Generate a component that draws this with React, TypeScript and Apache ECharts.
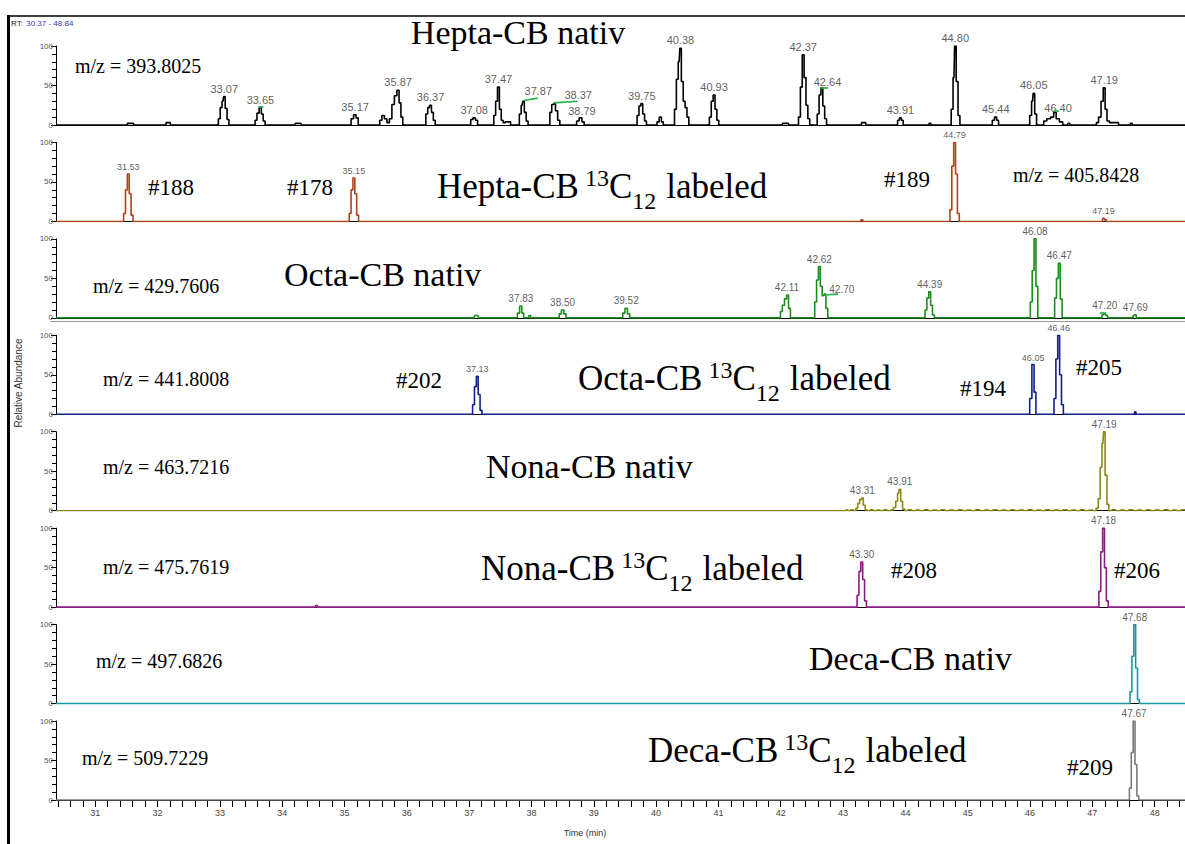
import React, { useEffect, useRef } from "react";
import * as echarts from "echarts";

// ---------- data ----------
const RT_MIN = 30.37;
const RT_MAX = 48.84;
const majorTicks = [31, 32, 33, 34, 35, 36, 37, 38, 39, 40, 41, 42, 43, 44, 45, 46, 47, 48];
const abundanceTicks = [0, 50, 100];

const heptaNative: [number, number][] = [
  [30.37, 0],
  [31.5, 0], [31.53, 2], [31.6, 2], [31.63, 0],
  [32.12, 0], [32.15, 3], [32.19, 3], [32.22, 0],
  [32.96, 0], [32.99, 8], [33.02, 22], [33.05, 30], [33.07, 36], [33.1, 21], [33.13, 7], [33.16, 0],
  [33.55, 0], [33.58, 6], [33.61, 15], [33.65, 22], [33.68, 14], [33.71, 5], [33.74, 0],
  [34.2, 0], [34.22, 2], [34.3, 2], [34.32, 0],
  [35.09, 0], [35.12, 8], [35.17, 13], [35.2, 9], [35.24, 0],
  [35.55, 0], [35.58, 6], [35.62, 12], [35.66, 8], [35.7, 3], [35.74, 8], [35.78, 26], [35.82, 37], [35.86, 44], [35.89, 28], [35.92, 10], [35.95, 0],
  [36.29, 0], [36.32, 14], [36.35, 22], [36.38, 25], [36.41, 16], [36.44, 6], [36.47, 0],
  [37.01, 0], [37.04, 7], [37.08, 9], [37.12, 6], [37.15, 0],
  [37.38, 0], [37.41, 12], [37.44, 30], [37.47, 48], [37.5, 20], [37.53, 6], [37.56, 3], [37.6, 4], [37.65, 4], [37.68, 0],
  [37.79, 0], [37.82, 14], [37.85, 25], [37.87, 30], [37.9, 16], [37.93, 5], [37.96, 0],
  [38.28, 0], [38.31, 16], [38.34, 26], [38.37, 27], [38.4, 18], [38.44, 6], [38.47, 0],
  [38.71, 0], [38.74, 5], [38.79, 9], [38.83, 4], [38.86, 0],
  [39.68, 0], [39.71, 12], [39.74, 24], [39.77, 27], [39.8, 14], [39.83, 5], [39.86, 0],
  [40.0, 0], [40.03, 4], [40.07, 10], [40.1, 4], [40.13, 0],
  [40.28, 0], [40.31, 20], [40.34, 58], [40.37, 80], [40.39, 97], [40.42, 55], [40.45, 30], [40.48, 22], [40.51, 10], [40.54, 0],
  [40.84, 0], [40.87, 10], [40.9, 30], [40.93, 38], [40.96, 20], [40.99, 6], [41.02, 0],
  [42.02, 0], [42.04, 2], [42.12, 2], [42.14, 0],
  [42.27, 0], [42.3, 10], [42.33, 48], [42.36, 89], [42.39, 60], [42.42, 25], [42.45, 8], [42.48, 0],
  [42.57, 0], [42.6, 14], [42.63, 38], [42.66, 47], [42.69, 24], [42.72, 8], [42.75, 0],
  [43.28, 0], [43.31, 3], [43.35, 3], [43.38, 0],
  [43.86, 0], [43.89, 6], [43.92, 9], [43.95, 6], [43.98, 0],
  [44.37, 0], [44.39, 2], [44.43, 0],
  [44.72, 0], [44.75, 20], [44.78, 60], [44.8, 100], [44.83, 55], [44.86, 12], [44.89, 0],
  [45.38, 0], [45.41, 6], [45.45, 10], [45.48, 6], [45.51, 0],
  [45.98, 0], [46.01, 12], [46.04, 30], [46.06, 40], [46.09, 14], [46.12, 0],
  [46.2, 0], [46.24, 5], [46.3, 8], [46.36, 10], [46.4, 16], [46.44, 8], [46.5, 4], [46.55, 0],
  [46.6, 0], [46.62, 2], [46.66, 0],
  [47.05, 0], [47.08, 3], [47.12, 10], [47.16, 30], [47.19, 47], [47.22, 20], [47.25, 5], [47.3, 3], [47.4, 3], [47.44, 0],
  [47.6, 0], [47.62, 2], [47.66, 0],
  [48.84, 0],
];
const heptaNativeLabels: [number, number, string][] = [
  [33.07, 36, "33.07"], [33.65, 22, "33.65"], [35.17, 13, "35.17"], [35.86, 44, "35.87"],
  [36.38, 25, "36.37"], [37.08, 9, "37.08"], [37.47, 48, "37.47"], [38.11, 33, "37.87"],
  [38.75, 28, "38.37"], [38.81, 8, "38.79"], [39.77, 27, "39.75"], [40.39, 97, "40.38"],
  [40.93, 38, "40.93"], [42.36, 89, "42.37"], [42.75, 44, "42.64"], [43.92, 9, "43.91"],
  [44.8, 100, "44.80"], [45.45, 10, "45.44"], [46.06, 40, "46.05"], [46.45, 12, "46.40"],
  [47.19, 47, "47.19"],
];
// label connector segments: [rt1, abundance1, rt2, abundance2]
const heptaNativeConnectors: [number, number, number, number][] = [
  [33.62, 23, 33.7, 23], [37.88, 31, 38.1, 34], [38.36, 28, 38.74, 30],
  [42.64, 47, 42.76, 47], [46.38, 18, 46.46, 18],
];

const heptaLabeled: [number, number][] = [
  [30.37, 0], [31.44, 0], [31.47, 10], [31.5, 40], [31.53, 60], [31.56, 35], [31.59, 8], [31.62, 0],
  [35.06, 0], [35.09, 10], [35.12, 40], [35.15, 55], [35.18, 35], [35.21, 8], [35.24, 0],
  [43.28, 0], [43.3, 2], [43.33, 0],
  [44.7, 0], [44.73, 15], [44.76, 70], [44.79, 100], [44.82, 60], [44.85, 10], [44.88, 0],
  [47.15, 0], [47.18, 4], [47.21, 2], [47.24, 0],
  [48.84, 0],
];
const heptaLabeledLabels: [number, number, string][] = [
  [31.53, 60, "31.53"], [35.15, 55, "35.15"], [44.79, 100, "44.79"], [47.18, 4, "47.19"],
];

const octaNative: [number, number][] = [
  [30.37, 0], [37.08, 0], [37.1, 3], [37.14, 3], [37.16, 0],
  [37.76, 0], [37.79, 6], [37.83, 15], [37.86, 6], [37.89, 0],
  [37.95, 0], [37.97, 3], [38.0, 0],
  [38.43, 0], [38.46, 5], [38.5, 10], [38.54, 5], [38.57, 0],
  [39.45, 0], [39.48, 6], [39.52, 12], [39.56, 5], [39.59, 0],
  [41.98, 0], [42.01, 8], [42.04, 16], [42.08, 24], [42.11, 29], [42.14, 12], [42.17, 0],
  [42.53, 0], [42.56, 20], [42.59, 48], [42.62, 65], [42.65, 40], [42.68, 28], [42.71, 30], [42.74, 12], [42.77, 0],
  [44.3, 0], [44.33, 10], [44.36, 25], [44.39, 33], [44.42, 16], [44.45, 4], [44.48, 0],
  [45.99, 0], [46.02, 20], [46.05, 60], [46.08, 100], [46.11, 40], [46.14, 0],
  [46.38, 0], [46.41, 25], [46.44, 50], [46.47, 69], [46.5, 24], [46.53, 0],
  [47.14, 0], [47.17, 4], [47.2, 5], [47.23, 3], [47.26, 0],
  [47.64, 0], [47.67, 3], [47.69, 4], [47.72, 0],
  [48.84, 0],
];
const octaNativeLabels: [number, number, string][] = [
  [37.83, 15, "37.83"], [38.5, 10, "38.50"], [39.52, 12, "39.52"], [42.1, 29, "42.11"],
  [42.62, 65, "42.62"], [42.98, 27, "42.70"], [44.39, 33, "44.39"], [46.08, 100, "46.08"],
  [46.47, 69, "46.47"], [47.2, 6, "47.20"], [47.69, 4, "47.69"],
];
const octaNativeConnectors: [number, number, number, number][] = [
  [42.71, 29, 42.92, 30], [47.12, 7, 47.22, 7],
];

const octaLabeled: [number, number][] = [
  [30.37, 0], [37.04, 0], [37.07, 12], [37.1, 35], [37.13, 48], [37.16, 25], [37.19, 5], [37.22, 0],
  [45.98, 0], [46.01, 20], [46.05, 63], [46.08, 28], [46.11, 0],
  [46.37, 0], [46.4, 20], [46.43, 70], [46.46, 100], [46.49, 50], [46.52, 12], [46.55, 0],
  [47.67, 0], [47.69, 3], [47.71, 0],
  [48.84, 0],
];
const octaLabeledLabels: [number, number, string][] = [
  [37.13, 48, "37.13"], [46.05, 63, "46.05"], [46.46, 100, "46.46"],
];

const nonaNative: [number, number][] = [
  [30.37, 0], [43.02, 0], [43.06, 1], [43.1, 0], [43.15, 1.2], [43.19, 0],
  [43.22, 3], [43.25, 9], [43.28, 14], [43.31, 16], [43.34, 7], [43.37, 1], [43.41, 0],
  [43.46, 1.2], [43.51, 0], [43.57, 1], [43.62, 0], [43.68, 1.3], [43.73, 0], [43.79, 1],
  [43.83, 4], [43.86, 12], [43.89, 22], [43.91, 27], [43.94, 12], [43.97, 2], [44.01, 0],
  [44.07, 1.2], [44.13, 0], [44.2, 1], [44.27, 0], [44.33, 1.3], [44.4, 0], [44.47, 1], [44.54, 0],
  [44.6, 1.2], [44.67, 0], [44.74, 1], [44.81, 0], [44.88, 1.3], [44.95, 0], [45.02, 1], [45.09, 0],
  [45.16, 1.2], [45.23, 0], [45.3, 1], [45.37, 0], [45.44, 1.3], [45.51, 0], [45.58, 1], [45.65, 0],
  [45.72, 1.2], [45.79, 0], [45.86, 1], [45.93, 0], [46.0, 1.3], [46.07, 0], [46.14, 1], [46.21, 0],
  [46.28, 1.2], [46.35, 0], [46.42, 1], [46.49, 0], [46.56, 1.3], [46.63, 0], [46.7, 1], [46.77, 0],
  [46.84, 1.2], [46.91, 0], [46.98, 1], [47.04, 0],
  [47.08, 3], [47.11, 15], [47.14, 55], [47.17, 85], [47.19, 100], [47.22, 45], [47.25, 8], [47.28, 0],
  [47.34, 1.2], [47.41, 0], [47.48, 1], [47.55, 0], [47.62, 1.3], [47.69, 0], [47.76, 1], [47.83, 0],
  [47.9, 1.2], [47.97, 0], [48.04, 1], [48.11, 0], [48.18, 1.3], [48.25, 0], [48.32, 1], [48.39, 0],
  [48.46, 1.2], [48.53, 0], [48.6, 1], [48.67, 0], [48.74, 1.3], [48.84, 0],
];
const nonaNativeLabels: [number, number, string][] = [
  [43.31, 16, "43.31"], [43.91, 27, "43.91"], [47.19, 100, "47.19"],
];

const nonaLabeled: [number, number][] = [
  [30.37, 0], [34.52, 0], [34.55, 2], [34.58, 0],
  [43.21, 0], [43.24, 15], [43.27, 45], [43.3, 57], [43.33, 35], [43.36, 8], [43.39, 0],
  [47.09, 0], [47.12, 20], [47.15, 70], [47.18, 100], [47.21, 50], [47.24, 8], [47.27, 0],
  [48.84, 0],
];
const nonaLabeledLabels: [number, number, string][] = [
  [43.3, 57, "43.30"], [47.18, 100, "47.18"],
];

const decaNative: [number, number][] = [
  [30.37, 0], [47.59, 0], [47.62, 15], [47.65, 60], [47.68, 100], [47.71, 45], [47.74, 5], [47.77, 0], [48.84, 0],
];
const decaNativeLabels: [number, number, string][] = [[47.68, 100, "47.68"]];

const decaLabeled: [number, number][] = [
  [30.37, 0], [47.58, 0], [47.61, 15], [47.64, 60], [47.67, 100], [47.7, 45], [47.73, 5], [47.76, 0], [48.84, 0],
];
const decaLabeledLabels: [number, number, string][] = [[47.67, 100, "47.67"]];

// ---------- layout / style ----------
const panels = [
  { data: heptaNative, labels: heptaNativeLabels, connectors: heptaNativeConnectors, color: "#000000", labelSize: 11 },
  { data: heptaLabeled, labels: heptaLabeledLabels, connectors: [], color: "#b0421a", labelSize: 9 },
  { data: octaNative, labels: octaNativeLabels, connectors: octaNativeConnectors, color: "#1c8c1c", labelSize: 10 },
  { data: octaLabeled, labels: octaLabeledLabels, connectors: [], color: "#10208c", labelSize: 9 },
  { data: nonaNative, labels: nonaNativeLabels, connectors: [], color: "#8a8a12", labelSize: 10 },
  { data: nonaLabeled, labels: nonaLabeledLabels, connectors: [], color: "#8e1a86", labelSize: 10 },
  { data: decaNative, labels: decaNativeLabels, connectors: [], color: "#1798a0", labelSize: 10 },
  { data: decaLabeled, labels: decaLabeledLabels, connectors: [], color: "#7a7a7a", labelSize: 10 },
];

const H = 844;
const CANVAS_W = 1215; // the plot runs past the right edge of the picture
const TOP0 = 46;
const PITCH = 96.43;
const GH = 79;
const LEFT = 56;
const GRID_W = 1151;

const SERIF = '"Liberation Serif", "Times New Roman", serif';
const SANS = '"Liberation Sans", Arial, sans-serif';
const TITLE = 34;
const LT_MAIN = 35;
const LT_SMALL = 24;

function plain(text: string, x: number, y: number, size: number) {
  return {
    type: "text",
    x,
    y,
    silent: true,
    style: { text, fill: "#000", font: `${size}px ${SERIF}`, align: "left", verticalAlign: "middle" },
  };
}

function measure(text: string, font: string) {
  const c = document.createElement("canvas").getContext("2d");
  if (!c) return text.length * 10;
  c.font = font;
  return c.measureText(text).width;
}

function labeledTitle(prefix: string, x: number, cy: number) {
  const fMain = `${LT_MAIN}px ${SERIF}`;
  const fSmall = `${LT_SMALL}px ${SERIF}`;
  const wPrefix = measure(prefix, fMain);
  const w13 = measure("13", fSmall);
  const wC = measure("C", fMain);
  const w12 = measure("12", fSmall);
  const x13 = x + wPrefix + 6;
  const xC = x13 + w13;
  const x12 = xC + wC;
  const xLab = x12 + w12 + 10;
  const mk = (text: string, tx: number, ty: number, font: string) => ({
    type: "text",
    x: tx,
    y: ty,
    silent: true,
    style: { text, fill: "#000", font, align: "left", verticalAlign: "middle" },
  });
  return {
    type: "group",
    silent: true,
    children: [
      mk(prefix, x, cy, fMain),
      mk("13", x13, cy - 8.5, fSmall),
      mk("C", xC, cy, fMain),
      mk("12", x12, cy + 14.5, fSmall),
      mk("labeled", xLab, cy, fMain),
    ],
  };
}

export default function App() {
  const ref = useRef<HTMLDivElement>(null);

  useEffect(() => {
    if (!ref.current) return;
    const chart = echarts.init(ref.current, undefined, { renderer: "svg" });

    const minorTickValues: number[] = [];
    for (let k = 152; k <= 244; k++) minorTickValues.push(Number((k * 0.2).toFixed(1)));

    const grids: any[] = [];
    const xAxes: any[] = [];
    const yAxes: any[] = [];
    const series: any[] = [];

    panels.forEach((p, i) => {
      const last = i === panels.length - 1;
      grids.push({ left: LEFT, width: GRID_W, top: TOP0 + i * PITCH, height: GH });
      xAxes.push({
        type: "value",
        gridIndex: i,
        min: RT_MIN,
        max: RT_MAX,
        splitLine: { show: false },
        axisLine: { show: true, lineStyle: { color: "#000", width: 1 } },
        axisTick: last
          ? { show: true, customValues: minorTickValues, length: 7, lineStyle: { color: "#000", width: 1 } }
          : { show: false },
        axisLabel: last
          ? { show: true, customValues: majorTicks, fontSize: 9, color: "#444", fontFamily: SANS, margin: 8 }
          : { show: false },
      });
      yAxes.push({
        type: "value",
        gridIndex: i,
        min: abundanceTicks[0],
        max: abundanceTicks[2],
        interval: 50,
        splitLine: { show: false },
        axisLine: { show: true, lineStyle: { color: "#000", width: 1 } },
        axisTick: { show: true, length: 5, lineStyle: { color: "#000" } },
        minorTick: { show: true, splitNumber: 5, length: 4, lineStyle: { color: "#000" } },
        axisLabel: { fontSize: 8, color: "#555", fontFamily: SANS, margin: 3 },
      });
      series.push({
        type: "line",
        xAxisIndex: i,
        yAxisIndex: i,
        data: p.data,
        step: "middle",
        showSymbol: false,
        symbol: "none",
        silent: true,
        lineStyle: { color: p.color, width: 1.6 },
        z: 3,
        markLine: p.connectors.length
          ? {
              silent: true,
              symbol: "none",
              label: { show: false },
              lineStyle: { color: "#22b04a", width: 1.6, type: "solid" },
              data: p.connectors.map((c) => [{ coord: [c[0], c[1]] }, { coord: [c[2], c[3]] }]),
            }
          : undefined,
      });
      series.push({
        type: "scatter",
        xAxisIndex: i,
        yAxisIndex: i,
        symbolSize: 1,
        silent: true,
        itemStyle: { color: "rgba(0,0,0,0)" },
        data: p.labels.map((l) => ({ value: [l[0], l[1]], name: l[2] })),
        label: {
          show: true,
          position: "top",
          distance: 2,
          formatter: "{b}",
          fontSize: p.labelSize,
          color: "#333",
          fontFamily: SANS,
        },
        z: 4,
      });
    });

    const graphic: any[] = [
      // frame
      { type: "line", silent: true, shape: { x1: 8.5, y1: 15, x2: 8.5, y2: 850 }, style: { stroke: "#000", lineWidth: 3 } },
      { type: "line", silent: true, shape: { x1: 7, y1: 16, x2: 1215, y2: 16 }, style: { stroke: "#000", lineWidth: 1.5 } },
      // separator between the two captures
      { type: "line", silent: true, shape: { x1: 50, y1: 321.5, x2: 1215, y2: 321.5 }, style: { stroke: "#9a9a9a", lineWidth: 1 } },
      {
        type: "text",
        x: 11,
        y: 23,
        silent: true,
        style: {
          text: "{k|RT:} {v|30.37 - 48.84}",
          align: "left",
          verticalAlign: "middle",
          rich: {
            k: { fontSize: 8, fontFamily: SANS, fill: "#222" },
            v: { fontSize: 8, fontFamily: SANS, fill: "#3a3ab0" },
          },
        },
      },
      {
        type: "text",
        x: 18,
        y: 383,
        rotation: Math.PI / 2,
        silent: true,
        style: { text: "Relative Abundance", font: `10px ${SANS}`, fill: "#333", align: "center", verticalAlign: "middle" },
      },
      {
        type: "text",
        x: 585,
        y: 833,
        silent: true,
        style: { text: "Time (min)", font: `9px ${SANS}`, fill: "#333", align: "center", verticalAlign: "middle" },
      },
      // panel 1
      { type: "text", x: 518, y: 32, silent: true, style: { text: "Hepta-CB nativ", font: `${TITLE}px ${SERIF}`, fill: "#000", align: "center", verticalAlign: "middle" } },
      plain("m/z = 393.8025", 75, 66, 20),
      // panel 2
      plain("#188", 148, 187, 23),
      plain("#178", 287, 187, 23),
      labeledTitle("Hepta-CB", 437, 186),
      plain("#189", 884, 179, 23),
      plain("m/z = 405.8428", 1013, 175, 20),
      // panel 3
      plain("m/z = 429.7606", 93, 286, 20),
      { type: "text", x: 284, y: 274, silent: true, style: { text: "Octa-CB nativ", font: `${TITLE}px ${SERIF}`, fill: "#000", align: "left", verticalAlign: "middle" } },
      // panel 4
      plain("m/z = 441.8008", 103, 379, 20),
      plain("#202", 396, 380, 23),
      labeledTitle("Octa-CB", 578, 378),
      plain("#194", 960, 388, 23),
      plain("#205", 1076, 367, 23),
      // panel 5
      plain("m/z = 463.7216", 103, 467, 20),
      { type: "text", x: 486, y: 466, silent: true, style: { text: "Nona-CB nativ", font: `${TITLE}px ${SERIF}`, fill: "#000", align: "left", verticalAlign: "middle" } },
      // panel 6
      plain("m/z = 475.7619", 103, 567, 20),
      labeledTitle("Nona-CB", 481, 568),
      plain("#208", 891, 570, 23),
      plain("#206", 1114, 570, 23),
      // panel 7
      plain("m/z = 497.6826", 96, 661, 20),
      { type: "text", x: 809, y: 658, silent: true, style: { text: "Deca-CB nativ", font: `${TITLE}px ${SERIF}`, fill: "#000", align: "left", verticalAlign: "middle" } },
      // panel 8
      plain("m/z = 509.7229", 82, 758, 20),
      labeledTitle("Deca-CB", 648, 750),
      plain("#209", 1067, 767, 23),
    ];

    chart.setOption({
      animation: false,
      backgroundColor: "#ffffff",
      grid: grids,
      xAxis: xAxes,
      yAxis: yAxes,
      series,
      graphic,
    });

    return () => chart.dispose();
  }, []);

  return (
    <div
      ref={ref}
      style={{ position: "fixed", left: 0, top: 0, width: CANVAS_W, height: H, background: "#fff" }}
    />
  );
}
